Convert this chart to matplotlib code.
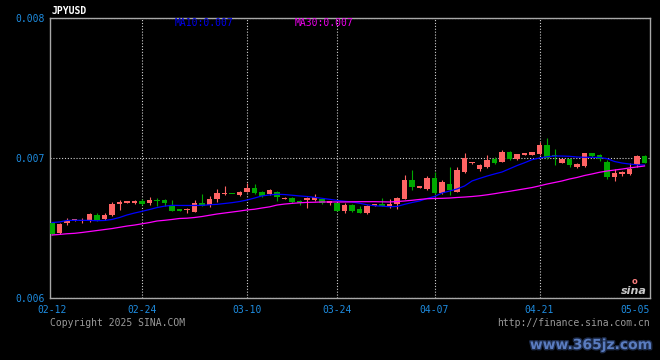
import numpy as np
import matplotlib
matplotlib.use('Agg')
import matplotlib.pyplot as plt
import matplotlib.patheffects as pe
from matplotlib.transforms import blended_transform_factory

title = 'JPYUSD'
date_labels = ['02-12', '02-24', '03-10', '03-24', '04-07', '04-21', '05-05']
date_index = [0, 12, 26, 38, 51, 65, 79]
y_ticks = [0.006, 0.007, 0.008]
ma10_label = 'MA10:0.007'
ma30_label = 'MA30:0.007'

open_ = [0.006536, 0.006464, 0.006536, 0.006554, 0.006550, 0.006550, 0.006593, 0.006564, 0.006593, 0.006675,
         0.006682, 0.006679, 0.006693, 0.006679, 0.006700, 0.006700, 0.006657, 0.006629, 0.006629, 0.006614,
         0.006679, 0.006664, 0.006707, 0.006746, 0.006746, 0.006736, 0.006757, 0.006786, 0.006757, 0.006743,
         0.006757, 0.006707, 0.006714, 0.006693, 0.006700, 0.006700, 0.006707, 0.006679, 0.006679, 0.006621,
         0.006664, 0.006636, 0.006607, 0.006657, 0.006671, 0.006657, 0.006671, 0.006707, 0.006843, 0.006789,
         0.006779, 0.006857, 0.006750, 0.006814, 0.006757, 0.006900, 0.006961, 0.006921, 0.006936, 0.006993,
         0.006971, 0.007043, 0.006993, 0.007025, 0.007021, 0.007029, 0.007093, 0.007021, 0.006964, 0.006993,
         0.006936, 0.006943, 0.007036, 0.007021, 0.006971, 0.006864, 0.006889, 0.006886, 0.006950, 0.007014]
close = [0.006457, 0.006529, 0.006550, 0.006557, 0.006557, 0.006600, 0.006557, 0.006593, 0.006671, 0.006679,
         0.006686, 0.006693, 0.006671, 0.006700, 0.006693, 0.006679, 0.006621, 0.006625, 0.006632, 0.006679,
         0.006657, 0.006707, 0.006750, 0.006750, 0.006743, 0.006757, 0.006786, 0.006750, 0.006729, 0.006771,
         0.006721, 0.006714, 0.006686, 0.006679, 0.006714, 0.006721, 0.006679, 0.006693, 0.006621, 0.006664,
         0.006621, 0.006607, 0.006657, 0.006671, 0.006657, 0.006671, 0.006714, 0.006843, 0.006793, 0.006793,
         0.006857, 0.006750, 0.006829, 0.006771, 0.006914, 0.007000, 0.006964, 0.006950, 0.006986, 0.006964,
         0.007043, 0.006993, 0.007029, 0.007029, 0.007043, 0.007093, 0.007000, 0.007014, 0.006993, 0.006950,
         0.006957, 0.007036, 0.007014, 0.006993, 0.006864, 0.006893, 0.006893, 0.006921, 0.007014, 0.006964]
high = [0.006543, 0.006536, 0.006571, 0.006564, 0.006571, 0.006607, 0.006607, 0.006607, 0.006686, 0.006700,
        0.006686, 0.006700, 0.006707, 0.006721, 0.006714, 0.006707, 0.006700, 0.006629, 0.006643, 0.006700,
        0.006743, 0.006729, 0.006779, 0.006800, 0.006746, 0.006761, 0.006821, 0.006814, 0.006764, 0.006779,
        0.006761, 0.006718, 0.006718, 0.006700, 0.006718, 0.006743, 0.006714, 0.006696, 0.006682, 0.006679,
        0.006671, 0.006657, 0.006664, 0.006675, 0.006714, 0.006707, 0.006718, 0.006879, 0.006914, 0.006796,
        0.006871, 0.006900, 0.006843, 0.006936, 0.006936, 0.007036, 0.006968, 0.006954, 0.007021, 0.007007,
        0.007057, 0.007050, 0.007032, 0.007029, 0.007046, 0.007114, 0.007143, 0.007064, 0.006996, 0.006996,
        0.006961, 0.007039, 0.007039, 0.007029, 0.006986, 0.006921, 0.006907, 0.006964, 0.007021, 0.007018]
low = [0.006450, 0.006457, 0.006521, 0.006550, 0.006536, 0.006543, 0.006550, 0.006557, 0.006586, 0.006629,
       0.006682, 0.006671, 0.006664, 0.006664, 0.006657, 0.006657, 0.006621, 0.006625, 0.006607, 0.006614,
       0.006654, 0.006650, 0.006686, 0.006736, 0.006743, 0.006732, 0.006754, 0.006746, 0.006725, 0.006739,
       0.006693, 0.006707, 0.006682, 0.006661, 0.006643, 0.006696, 0.006671, 0.006664, 0.006618, 0.006607,
       0.006614, 0.006604, 0.006600, 0.006654, 0.006654, 0.006643, 0.006636, 0.006704, 0.006771, 0.006786,
       0.006775, 0.006746, 0.006746, 0.006736, 0.006754, 0.006896, 0.006957, 0.006907, 0.006932, 0.006957,
       0.006968, 0.006989, 0.006989, 0.007025, 0.007018, 0.007025, 0.006996, 0.006950, 0.006961, 0.006936,
       0.006932, 0.006939, 0.007007, 0.006982, 0.006850, 0.006836, 0.006871, 0.006882, 0.006936, 0.006961]
ma10 = [0.006539, 0.006543, 0.006554, 0.006555, 0.006555, 0.006554, 0.006552, 0.006554, 0.006561, 0.006575,
        0.006593, 0.006607, 0.006619, 0.006632, 0.006646, 0.006656, 0.006662, 0.006661, 0.006661, 0.006661,
        0.006662, 0.006666, 0.006669, 0.006675, 0.006681, 0.006689, 0.006700, 0.006714, 0.006729, 0.006736,
        0.006741, 0.006739, 0.006734, 0.006729, 0.006725, 0.006719, 0.006712, 0.006705, 0.006697, 0.006691,
        0.006686, 0.006677, 0.006666, 0.006659, 0.006656, 0.006652, 0.006654, 0.006669, 0.006682, 0.006693,
        0.006711, 0.006725, 0.006750, 0.006764, 0.006779, 0.006800, 0.006836, 0.006854, 0.006871, 0.006886,
        0.006900, 0.006923, 0.006946, 0.006966, 0.006988, 0.007000, 0.007009, 0.007014, 0.007014, 0.007012,
        0.007007, 0.007005, 0.007005, 0.007004, 0.006995, 0.006975, 0.006964, 0.006957, 0.006951, 0.006950]
ma30 = [0.006450, 0.006454, 0.006459, 0.006462, 0.006468, 0.006475, 0.006482, 0.006489, 0.006496, 0.006505,
        0.006514, 0.006521, 0.006530, 0.006539, 0.006550, 0.006555, 0.006561, 0.006568, 0.006570, 0.006575,
        0.006582, 0.006591, 0.006600, 0.006607, 0.006614, 0.006621, 0.006629, 0.006634, 0.006643, 0.006651,
        0.006664, 0.006671, 0.006676, 0.006680, 0.006683, 0.006684, 0.006686, 0.006686, 0.006686, 0.006686,
        0.006687, 0.006688, 0.006688, 0.006688, 0.006687, 0.006686, 0.006689, 0.006693, 0.006698, 0.006704,
        0.006709, 0.006711, 0.006712, 0.006714, 0.006718, 0.006721, 0.006725, 0.006730, 0.006737, 0.006745,
        0.006754, 0.006762, 0.006771, 0.006780, 0.006789, 0.006801, 0.006814, 0.006825, 0.006836, 0.006850,
        0.006861, 0.006875, 0.006886, 0.006898, 0.006907, 0.006914, 0.006921, 0.006929, 0.006936, 0.006943]

W, H = 660, 360
fig = plt.figure(figsize=(W / 100, H / 100), dpi=100, facecolor='black')
ax = fig.add_axes([50 / W, 62 / H, 600 / W, 280 / H], facecolor='black')

UP = '#ff6464'
DOWN = '#00a800'
TICK = '#1e8ce0'
MONO = 'DejaVu Sans Mono'

o = np.array(open_)
c = np.array(close)
h = np.array(high)
l = np.array(low)
x = np.arange(len(o))
cols = np.where(c >= o, UP, DOWN)
min_h = 0.0000075
body_bot = np.minimum(o, c)
body_h = np.maximum(np.abs(c - o), min_h)

ax.vlines(x, l, h, colors=cols, linewidth=0.8, zorder=3)
ax.bar(x, body_h, bottom=body_bot, width=0.76, color=cols, linewidth=0, zorder=4)
ax.plot(x, ma10, color='#0000ff', linewidth=0.9, zorder=5)
ax.plot(x, ma30, color='#ff00ff', linewidth=0.9, zorder=5)

ax.set_xlim(-0.27, len(o) - 1 + 0.73)
ax.set_ylim(y_ticks[0], y_ticks[-1])

# grid
ax.set_xticks(date_index[1:-1])
ax.set_xticklabels([])
ax.set_yticks(y_ticks)
ax.set_yticklabels(['%.3f' % v for v in y_ticks], color=TICK, family=MONO, fontsize=7)
ax.tick_params(axis='both', length=0)
ax.tick_params(axis='y', pad=4)
ax.grid(True, color='#d0d0d0', linestyle=(0, (1, 1.6)), linewidth=0.8, zorder=1)
ax.set_axisbelow(True)
for s in ax.spines.values():
    s.set_color('#a8a8a8')
    s.set_linewidth(1.0)

# x date labels
tr = blended_transform_factory(ax.transData, ax.transAxes)
for i, (lab, idx) in enumerate(zip(date_labels, date_index)):
    if i == len(date_labels) - 1:
        ax.text(1.0, -0.025, lab, transform=ax.transAxes, ha='right', va='top',
                color=TICK, family=MONO, fontsize=7)
    else:
        ax.text(idx, -0.025, lab, transform=tr, ha='center', va='top',
                color=TICK, family=MONO, fontsize=7)

def ftext(px, py, s, **kw):
    return fig.text(px / W, 1 - py / H, s, **kw)

ftext(52, 11, title, color='white', family=MONO, fontsize=7, va='center', ha='left', weight='bold')
ftext(175, 23, ma10_label, color='#0000ee', family=MONO, fontsize=7, va='center', ha='left')
ftext(295, 23, ma30_label, color='#ee00ee', family=MONO, fontsize=7, va='center', ha='left')
ftext(50, 323, 'Copyright 2025 SINA.COM', color='#9a9a9a', family=MONO, fontsize=7, va='center', ha='left')
ftext(650, 323, 'http://finance.sina.com.cn', color='#9a9a9a', family=MONO, fontsize=7, va='center', ha='right')

# sina logo
ftext(634, 291, 'sina', color='#c8c8c8', fontsize=8, style='italic', weight='bold', va='center', ha='center')
ftext(634, 282, 'o', color='#ff8080', fontsize=6, weight='bold', va='center', ha='center')

# watermark
t = ftext(652, 345, 'www.365jz.com', color='#5a7cc0', fontsize=10, weight='bold',
          ha='right', va='center', family='DejaVu Sans')
t.set_path_effects([pe.withStroke(linewidth=2.0, foreground='#1c2a48')])

fig.savefig('out.png', dpi=100, facecolor='black')
